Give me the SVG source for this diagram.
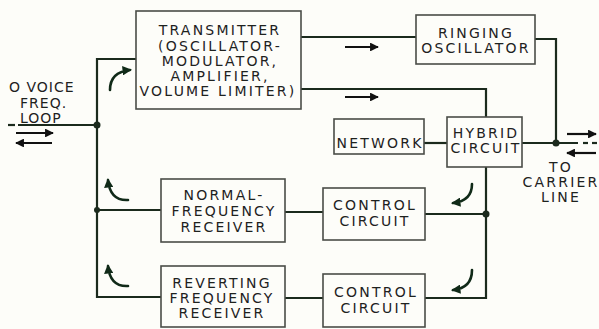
<svg xmlns="http://www.w3.org/2000/svg" width="599" height="329" viewBox="0 0 599 329">
<defs>
<style>
.box{fill:none;stroke:#4a4d48;stroke-width:1.6}
.ln{fill:none;stroke:#1b2a1d;stroke-width:2.2}
.cv{fill:none;stroke:#102a18;stroke-width:2.6;stroke-linecap:round}
.ar{fill:none;stroke:#111;stroke-width:2.2}
.t{font-family:"DejaVu Sans",sans-serif;font-size:14px;fill:#1e221e;text-anchor:middle;letter-spacing:2.2px}
.tl{font-family:"DejaVu Sans",sans-serif;font-size:14px;fill:#1e221e;letter-spacing:1px}
</style>
<marker id="ah" viewBox="0 0 10 10" refX="9" refY="5" markerWidth="4" markerHeight="4" orient="auto" markerUnits="strokeWidth">
<path d="M0,0 L10,5 L0,10 Z" fill="#111"/>
</marker>
<marker id="ch" viewBox="0 0 10 10" refX="8" refY="5" markerWidth="3.6" markerHeight="3.6" orient="auto" markerUnits="strokeWidth">
<path d="M0,0 L10,5 L0,10 Z" fill="#102a18"/>
</marker>
</defs>
<rect width="599" height="329" fill="#fdfdf9"/>

<g id="connectors">
<polyline class="ln" points="136,59 97,59 97,297 161,297"/>
<line class="ln" x1="18" y1="125" x2="97" y2="125"/>
<line class="ln" x1="8" y1="125" x2="15" y2="125"/>
<line class="ln" x1="97" y1="210" x2="161" y2="210"/>
<line class="ln" x1="301" y1="37" x2="416" y2="37"/>
<polyline class="ln" points="301,89 486,89 486,117"/>
<polyline class="ln" points="535,39 556,39 556,143"/>
<line class="ln" x1="522" y1="143" x2="578" y2="143"/>
<line class="ln" x1="583" y1="143" x2="588" y2="143"/>
<line class="ln" x1="592" y1="143" x2="597" y2="143"/>
<line class="ln" x1="424" y1="143" x2="447" y2="143"/>
<polyline class="ln" points="486,167 486,298 425,298"/>
<line class="ln" x1="425" y1="214" x2="486" y2="214"/>
<line class="ln" x1="285" y1="212" x2="323" y2="212"/>
<line class="ln" x1="285" y1="298" x2="323" y2="298"/>
<circle cx="97" cy="125" r="3.5" fill="#1b2a1d"/>
<circle cx="97" cy="210" r="3" fill="#1b2a1d"/>
<circle cx="556" cy="143" r="3.5" fill="#1b2a1d"/>
<circle cx="486" cy="214" r="3.5" fill="#1b2a1d"/>
<line class="ar" x1="16" y1="133" x2="53" y2="133" marker-end="url(#ah)"/>
<line class="ar" x1="52" y1="143" x2="16" y2="143" marker-end="url(#ah)"/>
<line class="ar" x1="345" y1="47" x2="378" y2="47" marker-end="url(#ah)"/>
<line class="ar" x1="345" y1="97" x2="378" y2="97" marker-end="url(#ah)"/>
<line class="ar" x1="567" y1="134" x2="596" y2="134" marker-end="url(#ah)"/>
<line class="ar" x1="596" y1="153" x2="567" y2="153" marker-end="url(#ah)"/>
<path class="cv" d="M110,90 Q110,72 130,70" marker-end="url(#ch)"/>
<path class="cv" d="M128,200 Q110,201 108,180" marker-end="url(#ch)"/>
<path class="cv" d="M128,286 Q110,287 108,266" marker-end="url(#ch)"/>
<path class="cv" d="M472,184 Q472,201 453,203" marker-end="url(#ch)"/>
<path class="cv" d="M472,270 Q472,288 453,290" marker-end="url(#ch)"/>
</g>

<g id="transmitter">
<rect class="box" x="136" y="11" width="165" height="98"/>
<text class="t" x="220" y="35">TRANSMITTER</text>
<text class="t" x="220" y="50.5">(OSCILLATOR-</text>
<text class="t" x="220" y="66">MODULATOR,</text>
<text class="t" x="220" y="81">AMPLIFIER,</text>
<text class="t" x="218" y="95.5">VOLUME LIMITER)</text>
</g>
<g id="ringing-oscillator">
<rect class="box" x="416" y="15" width="119" height="49"/>
<text class="t" x="476" y="38">RINGING</text>
<text class="t" x="476" y="53">OSCILLATOR</text>
</g>
<g id="network">
<rect class="box" x="334" y="119" width="90" height="35"/>
<text class="t" x="380" y="148" letter-spacing="1.4">NETWORK</text>
</g>
<g id="hybrid-circuit">
<rect class="box" x="447" y="117" width="75" height="50"/>
<text class="t" x="486" y="138" letter-spacing="1.4">HYBRID</text>
<text class="t" x="486" y="153" letter-spacing="1.4">CIRCUIT</text>
</g>
<g id="normal-receiver">
<rect class="box" x="161" y="179" width="124" height="63"/>
<text class="t" x="224" y="200">NORMAL-</text>
<text class="t" x="224" y="216">FREQUENCY</text>
<text class="t" x="224" y="232">RECEIVER</text>
</g>
<g id="reverting-receiver">
<rect class="box" x="161" y="266" width="124" height="61"/>
<text class="t" x="222" y="288">REVERTING</text>
<text class="t" x="222" y="303">FREQUENCY</text>
<text class="t" x="222" y="318">RECEIVER</text>
</g>
<g id="control-circuit-1">
<rect class="box" x="323" y="188" width="102" height="52"/>
<text class="t" x="375" y="210">CONTROL</text>
<text class="t" x="375" y="226">CIRCUIT</text>
</g>
<g id="control-circuit-2">
<rect class="box" x="323" y="274" width="102" height="53"/>
<text class="t" x="376" y="297">CONTROL</text>
<text class="t" x="376" y="313">CIRCUIT</text>
</g>
<g id="voice-loop-label">
<text class="tl" x="9" y="92">O VOICE</text>
<text class="tl" x="20" y="108">FREQ.</text>
<text class="tl" x="20" y="123">LOOP</text>
</g>
<g id="carrier-line-label">
<text class="t" x="561" y="172" letter-spacing="1.4">TO</text>
<text class="t" x="561" y="187" letter-spacing="1.4">CARRIER</text>
<text class="t" x="561" y="202" letter-spacing="1.4">LINE</text>
</g>
</svg>
